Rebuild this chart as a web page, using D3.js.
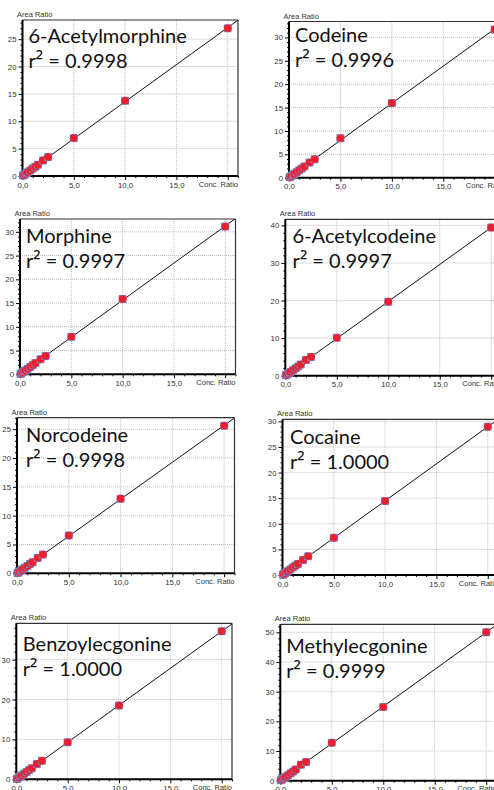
<!DOCTYPE html>
<html><head><meta charset="utf-8">
<script src="https://cdn.jsdelivr.net/npm/d3@7/dist/d3.min.js"></script>
<style>
html,body{margin:0;padding:0;background:#fff;}
svg{display:block;}
</style></head>
<body>
<script>
// ---------------- DATA ----------------
const compounds = ["6-Acetylmorphine","Codeine","Morphine","6-Acetylcodeine","Norcodeine","Cocaine","Benzoylecgonine","Methylecgonine"];
const r2Labels = ["0.9998","0.9996","0.9997","0.9997","0.9998","1.0000","1.0000","0.9999"];
const concRatio = [0.05,0.1,0.25,0.4,0.5,0.75,1.0,1.25,1.5,2.0,2.5,5.0,10.0,20.0];
const area6AM   = [0.07,0.14,0.34,0.55,0.68,1.02,1.36,1.70,2.04,2.85,3.45,6.95,13.75,27.0];
const areaCOD   = [0.08,0.16,0.40,0.63,0.80,1.19,1.59,1.98,2.40,3.25,3.95,8.45,15.95,31.7];
const areaMOR   = [0.08,0.16,0.39,0.62,0.78,1.17,1.56,1.95,2.36,3.15,3.85,7.90,15.85,31.1];
const area6AC   = [0.10,0.20,0.49,0.79,0.99,1.48,1.97,2.46,2.98,4.20,5.00,10.1,19.65,39.4];
const areaNCOD  = [0.06,0.13,0.32,0.51,0.64,0.96,1.28,1.60,1.93,2.66,3.25,6.55,12.95,25.6];
const areaCOC   = [0.07,0.14,0.36,0.58,0.72,1.08,1.44,1.80,2.17,2.95,3.65,7.25,14.45,28.95];
const areaBE    = [0.09,0.19,0.46,0.74,0.93,1.39,1.86,2.32,2.78,3.85,4.65,9.30,18.5,37.1];
const areaME    = [0.12,0.25,0.62,1.00,1.25,1.87,2.50,3.12,3.75,5.40,6.30,12.75,24.8,50.0];
const areaSeries = [area6AM, areaCOD, areaMOR, area6AC, areaNCOD, areaCOC, areaBE, areaME];
const xMax = 21;
const xTickValues = [0,5,10,15,20];
const yMaxes = [28.5,33.4,32.7,41.6,27.0,30.4,39.1,52.7];
const yTickSteps = [5,5,5,10,5,5,10,10];
const xAxisTitle = "Conc. Ratio";
const yAxisTitle = "Area Ratio";

// ---------------- LAYOUT ----------------
const W = 494, H = 790;
const frames = [
  {x0:22.5, x1:238,   top:20,    bottom:176,   tx:6,   ty:23},
  {x0:289,  x1:505,   top:21.5,  bottom:177.7, tx:6,   ty:20.5},
  {x0:20,   x1:235.5, top:219,   bottom:374.3, tx:6,   ty:23.7},
  {x0:285.3,x1:501.5, top:219.3, bottom:375.7, tx:7.3, ty:24},
  {x0:17,   x1:234.5, top:417.7, bottom:573.3, tx:9,   ty:24},
  {x0:282.5,x1:498,   top:419.3, bottom:575,   tx:7.5, ty:24.7},
  {x0:16.3, x1:232,   top:623.3, bottom:779.3, tx:6.5, ty:27.4},
  {x0:280.3,x1:496.5, top:624.3, bottom:780.7, tx:6,   ty:29}
];

const svg = d3.select("body").append("svg").attr("width",W).attr("height",H);
const fmtX = v => d3.format(".1f")(v).replace(".", ",");
const smallFont = "'Liberation Sans', Arial, sans-serif";

compounds.forEach((name, i) => {
  const f = frames[i];
  const x = d3.scaleLinear().domain([0, xMax]).range([f.x0, f.x1]);
  const y = d3.scaleLinear().domain([0, yMaxes[i]]).range([f.bottom, f.top]);
  const g = svg.append("g");
  const clipId = "clip" + i;
  svg.append("clipPath").attr("id", clipId).append("rect")
    .attr("x", f.x0).attr("y", f.top).attr("width", f.x1 - f.x0).attr("height", f.bottom - f.top);

  const step = yTickSteps[i];
  const yMajor = d3.range(0, yMaxes[i] + 0.001, step);
  const yMinor = d3.range(0, yMaxes[i] + 0.001, step / 5).filter(v => Math.abs(v / step - Math.round(v / step)) > 1e-6);
  const xMinor = d3.range(0, xMax + 0.001, 1).filter(v => v % 5 !== 0);

  // grid
  const grid = g.append("g").attr("stroke", "#bdbdbd").attr("stroke-width", 1).attr("stroke-dasharray", "1,1");
  xTickValues.filter(v => v > 0).forEach(v => {
    grid.append("line").attr("x1", x(v)).attr("x2", x(v)).attr("y1", f.top).attr("y2", f.bottom);
  });
  yMajor.filter(v => v > 0).forEach(v => {
    grid.append("line").attr("x1", f.x0).attr("x2", f.x1).attr("y1", y(v)).attr("y2", y(v));
  });

  // frame top/right
  g.append("line").attr("x1", f.x0).attr("x2", f.x1).attr("y1", f.top).attr("y2", f.top).attr("stroke", "#333").attr("stroke-width", 1.2);
  g.append("line").attr("x1", f.x1).attr("x2", f.x1).attr("y1", f.top).attr("y2", f.bottom).attr("stroke", "#333").attr("stroke-width", 1.2);

  // y axis
  const yAxis = d3.axisLeft(y).tickValues(yMajor).tickSize(4).tickPadding(2).tickFormat(d3.format("d"));
  const ya = g.append("g").attr("transform", `translate(${f.x0},0)`).call(yAxis);
  ya.select(".domain").attr("stroke", "#000").attr("stroke-width", 2).attr("d", `M0,${f.top}V${f.bottom}`);
  ya.selectAll(".tick line").attr("stroke", "#000");
  ya.selectAll(".tick text").attr("font-family", smallFont).attr("font-size", 7.8).attr("fill", "#333");
  const yMinorAxis = d3.axisLeft(y).tickValues(yMinor).tickSize(2).tickFormat("");
  const ym = g.append("g").attr("transform", `translate(${f.x0},0)`).call(yMinorAxis);
  ym.select(".domain").remove();
  ym.selectAll(".tick line").attr("stroke", "#000");

  // x axis
  const xAxis = d3.axisBottom(x).tickValues(xTickValues).tickSize(4).tickPadding(2)
    .tickFormat(v => v === 20 ? "" : fmtX(v));
  const xa = g.append("g").attr("transform", `translate(0,${f.bottom})`).call(xAxis);
  xa.select(".domain").attr("stroke", "#000").attr("stroke-width", 2).attr("d", `M${f.x0},0H${f.x1}`);
  xa.selectAll(".tick line").attr("stroke", "#000");
  xa.selectAll(".tick text").attr("font-family", smallFont).attr("font-size", 7.8).attr("fill", "#333");
  const xMinorAxis = d3.axisBottom(x).tickValues(xMinor).tickSize(2).tickFormat("");
  const xm = g.append("g").attr("transform", `translate(0,${f.bottom})`).call(xMinorAxis);
  xm.select(".domain").remove();
  xm.selectAll(".tick line").attr("stroke", "#000");

  // axis titles
  g.append("text").attr("x", f.x1).attr("y", f.bottom + 10.5).attr("text-anchor", "end")
    .attr("font-family", smallFont).attr("font-size", 7.5).attr("fill", "#333").text(xAxisTitle);
  g.append("text").attr("x", f.x0 - 5.5).attr("y", f.top - 3)
    .attr("font-family", smallFont).attr("font-size", 7.5).attr("fill", "#333").text(yAxisTitle);

  // regression line
  const ys = areaSeries[i];
  const mx = d3.mean(concRatio), my = d3.mean(ys);
  const slope = d3.sum(concRatio, (c, k) => (c - mx) * (ys[k] - my)) / d3.sum(concRatio, c => (c - mx) * (c - mx));
  const icpt = my - slope * mx;
  g.append("line").attr("clip-path", `url(#${clipId})`)
    .attr("x1", x(0)).attr("y1", y(icpt)).attr("x2", x(xMax)).attr("y2", y(icpt + slope * xMax))
    .attr("stroke", "#111").attr("stroke-width", 1);

  // points
  const pts = g.append("g");
  concRatio.forEach((c, k) => {
    const px = x(c), py = y(ys[k]);
    pts.append("rect").attr("x", px - 4).attr("y", py - 4).attr("width", 8).attr("height", 8)
      .attr("fill", "#7388cf").attr("rx", 1);
    pts.append("circle").attr("cx", px).attr("cy", py).attr("r", 3.8).attr("fill", "#ee1f2d");
  });

  // annotation
  const t = g.append("g").attr("font-family", "Lato, 'Noto Sans', sans-serif").attr("font-size", 20).attr("fill", "#111");
  t.append("text").attr("x", f.x0 + f.tx).attr("y", f.top + f.ty).text(name);
  const t2 = t.append("text").attr("x", f.x0 + f.tx).attr("y", f.top + f.ty + 25);
  t2.append("tspan").text("r");
  t2.append("tspan").attr("font-family", "'Noto Sans', sans-serif").attr("font-size", 21).text("\u00B2");
  t2.append("tspan").text(" = " + r2Labels[i]);
});
</script>
</body></html>
